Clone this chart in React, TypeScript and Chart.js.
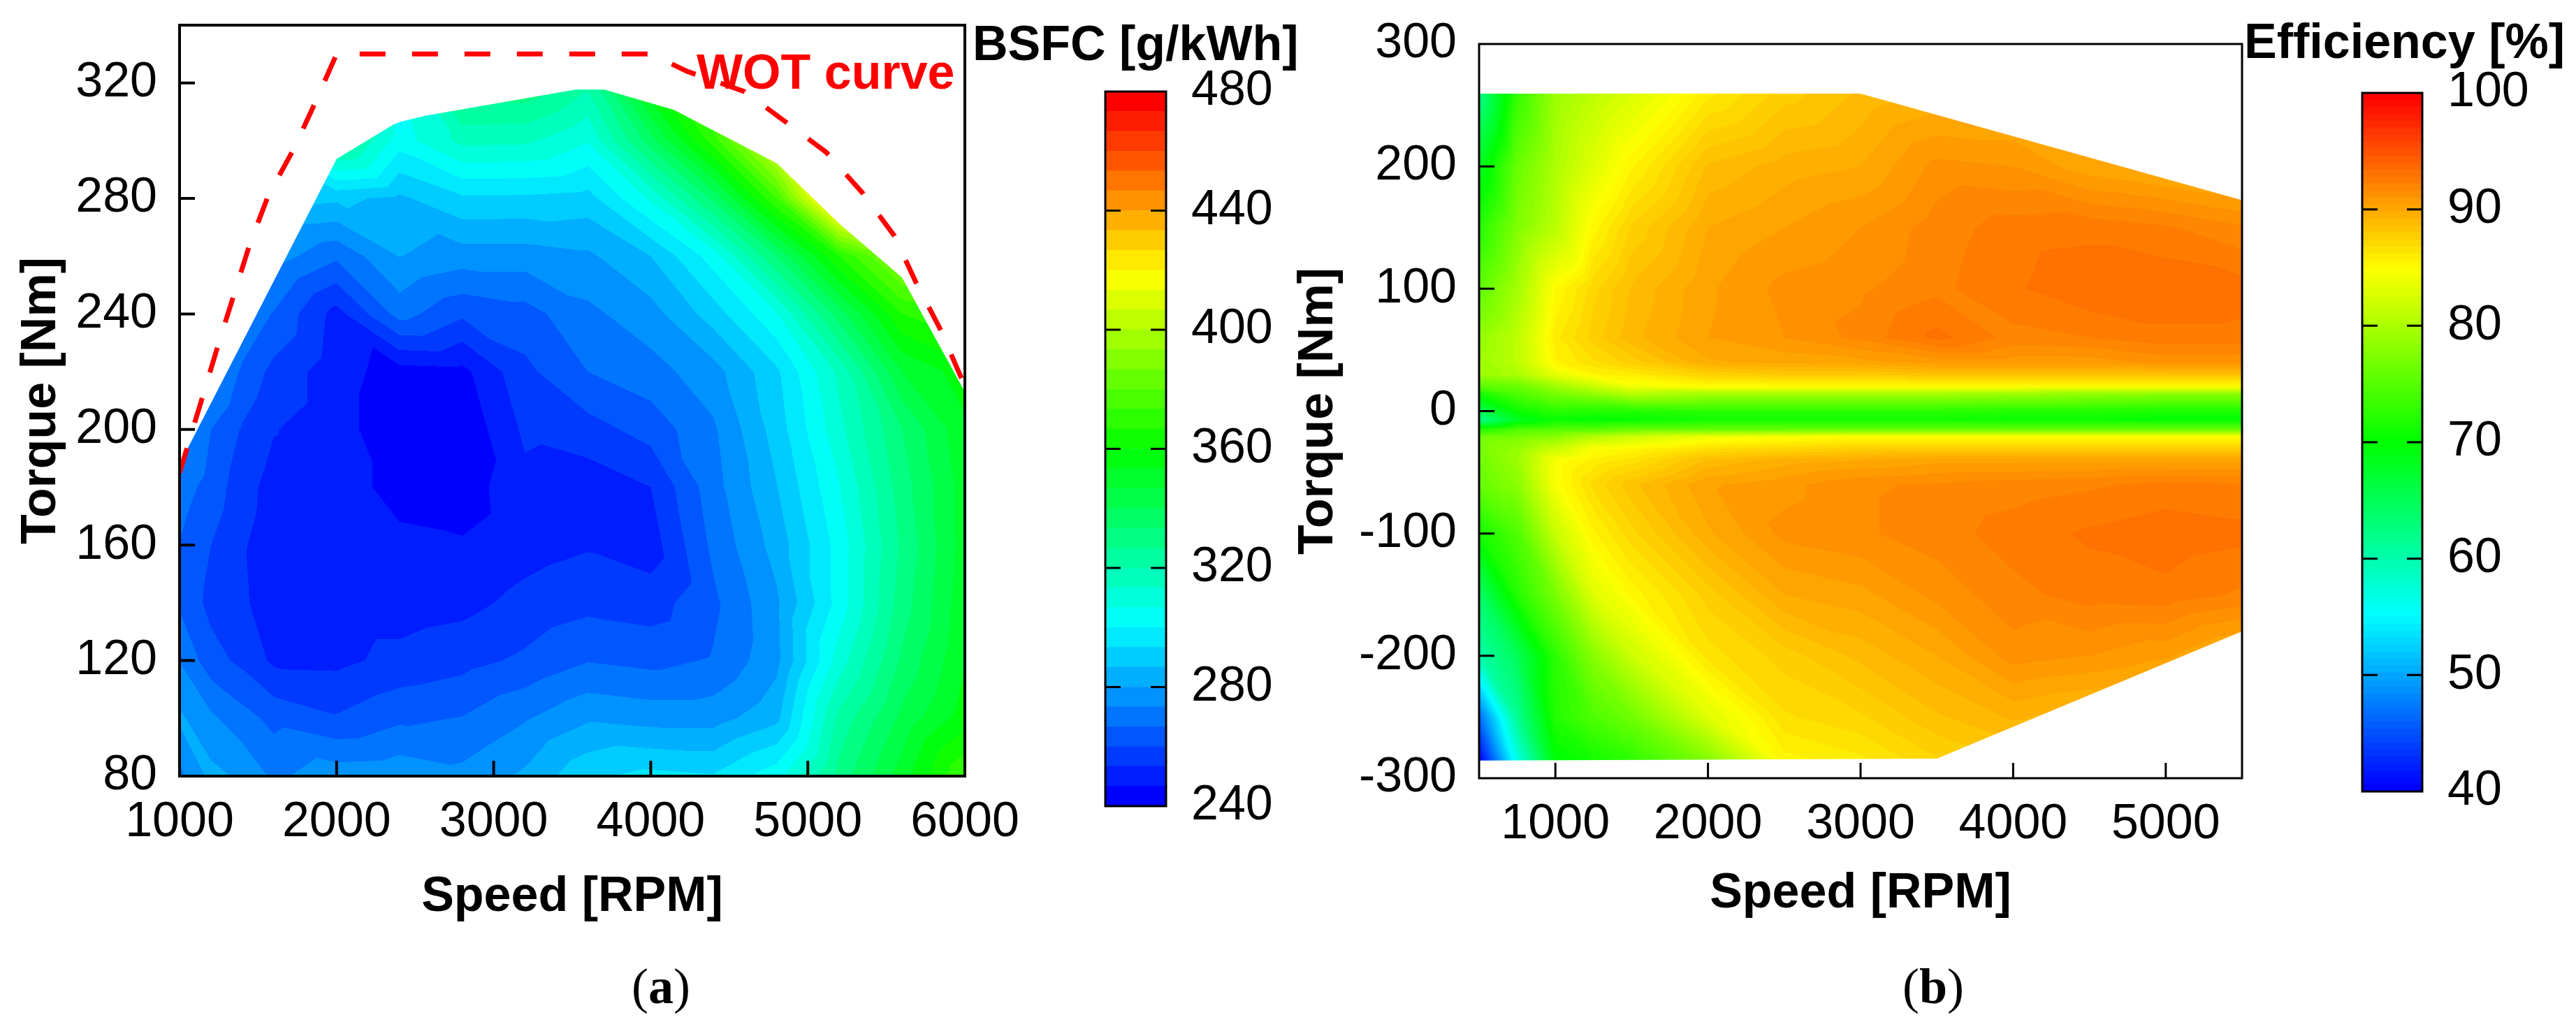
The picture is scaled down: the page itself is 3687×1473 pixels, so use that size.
import { Chart, registerables } from 'chart.js'
import { useEffect, useRef } from 'react'

Chart.register(...registerables)

// (a) BSFC map
const bsfcTorques = [80, 100, 120, 140, 160, 180, 200, 220, 240, 260, 280, 300, 320]
const bsfcSpeeds = [1000, 1200, 1400, 1600, 2000, 2400, 2800, 3200, 3600, 4000, 4400, 4800, 5200, 5600, 6000]
const bsfcAt1000 = [271.3, 281.3, 273, 265.7, 266.3, 270, 276.7, 290, 303.3, 313.3, 326.7, 340, 346.7]
const bsfcAt1200 = [282, 274.7, 262.7, 258, 260, 264, 266.7, 276.7, 286.7, 300, 313.3, 326.7, 340]
const bsfcAt1400 = [278.7, 269.3, 258.3, 254.7, 254, 256, 259.3, 265.3, 273.3, 286.7, 300, 313.3, 326.7]
const bsfcAt1600 = [272, 264.7, 252, 248.7, 250, 250.7, 253.7, 258, 266, 276.7, 290, 303.3, 313.3]
const bsfcAt2000 = [277.3, 260.7, 251.7, 250, 249.3, 249.3, 249.3, 249.3, 250.7, 268, 288, 326.7, 340]
const bsfcAt2400 = [278, 265.3, 255.3, 250, 248, 244.7, 242, 243.7, 269.3, 280.2, 285.3, 303.3, 306.7]
const bsfcAt2800 = [275.3, 267, 257.7, 251.3, 247.3, 243.3, 241.3, 244.7, 261.3, 276.7, 292.3, 315.3, 333]
const bsfcAt3200 = [281.3, 272.7, 261.3, 255.3, 250.7, 251.3, 254.7, 258.3, 264, 276.7, 292, 314.7, 333]
const bsfcAt3600 = [292, 279, 266.3, 258, 252.7, 249.3, 257.3, 266.7, 271.7, 278.7, 290.7, 307.3, 322]
const bsfcAt4000 = [295.3, 277.3, 264.7, 256.7, 250, 253.3, 262.7, 270.7, 277.3, 286.7, 308, 337.3, 360]
const bsfcAt4400 = [294, 277.3, 267.3, 265.3, 268.3, 270.7, 272.3, 277.3, 290, 303.3, 335.3, 370, 386.7]
const bsfcAt4800 = [304, 284.7, 278, 278.7, 282.7, 286.3, 289.7, 292, 306, 333.3, 373.3, 413.3, 440]
const bsfcAt5200 = [329.3, 322, 310, 302.7, 302.7, 306.3, 311.3, 315.3, 336.7, 366.7, 440, 460, 473.3]
const bsfcAt5600 = [350, 342, 334.7, 330, 328, 330, 333.3, 346.7, 366.7, 393.3, 440, 460, 473.3]
const bsfcAt6000 = [373.3, 356.7, 352.7, 351.3, 350, 350, 352, 356.7, 373.3, 406.7, 440, 460, 473.3]
const bsfcColumns = [
  bsfcAt1000, bsfcAt1200, bsfcAt1400, bsfcAt1600, bsfcAt2000, bsfcAt2400, bsfcAt2800, bsfcAt3200,
  bsfcAt3600, bsfcAt4000, bsfcAt4400, bsfcAt4800, bsfcAt5200, bsfcAt5600, bsfcAt6000,
]
// upper edge of the measured region
const bsfcOutlineSpeed = [1000, 2000, 2365, 2416, 2569, 3522, 3705, 4147, 4803, 5203, 5600, 6000, 6000, 1000]
const bsfcOutlineTorque = [188, 293.7, 305.7, 306.7, 308.7, 317.7, 317.7, 310.7, 292.2, 271.2, 252.6, 213, 80, 80]
const wotSpeed = [1000, 1250, 1446, 1565, 1726, 1862, 2000, 4000, 4232, 4598, 4871, 5117, 5347, 5552, 5688, 5841, 6000]
const wotTorque = [185, 230, 264, 281, 297, 313, 330, 330, 324, 317, 306, 296, 282, 267, 251, 235, 215]

// (b) motor efficiency map
const effTorques = [-286, -250, -200, -150, -100, -60, -40, -30, -21, -15, -7, 0, 14, 20, 30, 40, 60, 100, 150, 200, 260]
const effSpeeds = [500, 750, 1000, 1250, 1500, 2000, 2500, 3000, 3500, 4000, 4500, 5000, 5500]
const effAt500 = [40, 46.5, 60, 64, 71, 76, 76.5, 77, 76.5, 72, 62, 65, 71, 75, 79, 79, 78.5, 75.5, 72, 68, 62]
const effAt750 = [56.5, 61.5, 65, 72, 74.5, 78, 79, 78.5, 77, 74.5, 68, 70.6, 74.5, 76, 80, 81, 81, 79.5, 77.5, 76, 73]
const effAt1000 = [69.5, 72, 72.5, 77, 81.5, 84.5, 84.5, 81.5, 78, 75, 70.5, 72.5, 77, 79, 83.5, 85.5, 86, 85, 80.8, 80, 79]
const effAt1250 = [71, 74.5, 78, 83, 85.5, 87, 85.8, 84.5, 80.5, 75, 70, 72, 78.5, 81.5, 85.5, 86.7, 87.7, 87.2, 85.3, 83, 81]
const effAt1500 = [72.5, 76.5, 81.8, 85.2, 87.2, 88.4, 86.5, 85, 82, 76, 70.3, 72, 80.5, 84, 86, 87.7, 89, 88.7, 87.5, 85.5, 82.6]
const effAt2000 = [77.5, 83, 86.5, 87.7, 89.7, 90.3, 88.7, 86.5, 84, 76, 71, 72.5, 79.5, 85, 87.5, 89.7, 90.4, 90.3, 89.8, 88.7, 86]
const effAt2500 = [85.3, 86.7, 87.7, 89.8, 91.2, 90.8, 89.5, 87, 84.5, 76, 71, 72.5, 79.5, 85, 88, 90, 91, 91.2, 90.4, 89.5, 87.7]
const effAt3000 = [86, 87.3, 88.8, 90.2, 91.5, 91.5, 89.8, 87.5, 85, 76, 71, 72.5, 79.5, 85, 88, 90.2, 91.8, 91.5, 91, 89.8, 88.7]
const effAt3500 = [87.3, 88.5, 89.8, 91.2, 91.9, 91.7, 90.2, 87.5, 85, 76, 71, 72.5, 79.5, 85, 88.5, 90.7, 93, 92.05, 91.9, 91.2, 89.3]
const effAt4000 = [88, 89.3, 91.3, 92, 92.5, 91.9, 90.2, 87.5, 85, 76, 70.5, 72, 79, 85, 88.5, 90.7, 92, 92.7, 92.5, 91, 89.3]
const effAt4500 = [88, 88.8, 91, 92.5, 92.9, 92.1, 90.2, 87.5, 85, 76, 70.5, 72, 78.5, 85, 88.5, 90.7, 92.2, 93.3, 92.6, 90, 89.3]
const effAt5000 = [88, 88.5, 90.5, 92.6, 93.2, 92.4, 90.2, 87.5, 85, 76, 70, 71.5, 78, 85, 88.5, 91.2, 92.6, 93.3, 92.3, 89.5, 89]
const effAt5500 = [88, 88.5, 89.4, 92.1, 93, 92.3, 90.2, 87.5, 85, 76, 70, 71.5, 78, 85, 88.5, 91.2, 92.6, 93.1, 91.7, 89.1, 88.5]
const effColumns = [
  effAt500, effAt750, effAt1000, effAt1250, effAt1500, effAt2000, effAt2500, effAt3000, effAt3500, effAt4000, effAt4500, effAt5000, effAt5500,
]
const effOutlineSpeed = [500, 3000, 5500, 5500, 3500, 500]
const effOutlineTorque = [259.5, 259.5, 172.4, -180, -284, -285.6]

// axis ticks
const bsfcSpeedTicks = [1000, 2000, 3000, 4000, 5000, 6000]
const bsfcTorqueTicks = [80, 120, 160, 200, 240, 280, 320]
const bsfcBarTicks = [240, 280, 320, 360, 400, 440, 480]
const effSpeedTicks = [1000, 2000, 3000, 4000, 5000]
const effTorqueTicks = [-300, -200, -100, 0, 100, 200, 300]
const effBarTicks = [40, 50, 60, 70, 80, 90, 100]

const SANS = 'Liberation Sans'

// rainbow map: blue, cyan, green, yellow, red
function rainbow(t: number): [number, number, number] {
  if (t < 0.25) return [0, 4 * t * 255, 255]
  if (t < 0.5) return [0, 255, (1 - 4 * (t - 0.25)) * 255]
  if (t < 0.75) return [4 * (t - 0.5) * 255, 255, 0]
  return [255, (1 - 4 * (t - 0.75)) * 255, 0]
}

function bandColors(bands: number) {
  const out: [number, number, number][] = []
  for (let i = 0; i < bands; i++) out.push(rainbow(i / (bands - 1)))
  return out
}

function findCell(list: number[], v: number) {
  let i = 0
  while (i < list.length - 2 && v > list[i + 1]) i++
  return i
}

// fills the contour bands, reading every pixel back through the chart's scales
function contourPlugin(p: any) {
  return {
    id: 'contourFill',
    beforeDatasetsDraw(chart: any) {
      const { left, top, right, bottom } = chart.chartArea
      const sx = chart.scales.x
      const sy = chart.scales.y
      const w = Math.round(right - left)
      const h = Math.round(bottom - top)
      const off = document.createElement('canvas')
      off.width = w
      off.height = h
      const octx = off.getContext('2d')!
      const img = octx.createImageData(w, h)
      const colors = bandColors(p.bands)
      const step = (p.max - p.min) / p.bands
      const colIdx: number[] = []
      const colFrac: number[] = []
      for (let px = 0; px < w; px++) {
        const s = sx.getValueForPixel(left + px + 0.5)
        const c = findCell(p.speeds, s)
        colIdx.push(c)
        colFrac.push((s - p.speeds[c]) / (p.speeds[c + 1] - p.speeds[c]))
      }
      for (let py = 0; py < h; py++) {
        const t = sy.getValueForPixel(top + py + 0.5)
        const r = findCell(p.torques, t)
        const fv = (t - p.torques[r]) / (p.torques[r + 1] - p.torques[r])
        for (let px = 0; px < w; px++) {
          const c = colIdx[px]
          const fu = colFrac[px]
          const a = p.columns[c][r]
          const b = p.columns[c + 1][r]
          const d = p.columns[c][r + 1]
          const e = p.columns[c + 1][r + 1]
          const v = fu + fv <= 1
            ? a + fu * (b - a) + fv * (d - a)
            : e + (1 - fu) * (d - e) + (1 - fv) * (b - e)
          const band = Math.max(0, Math.min(p.bands - 1, Math.floor((v - p.min) / step)))
          const col = colors[band]
          const o = (py * w + px) * 4
          img.data[o] = col[0]
          img.data[o + 1] = col[1]
          img.data[o + 2] = col[2]
          img.data[o + 3] = 255
        }
      }
      octx.putImageData(img, 0, 0)
      const ctx = chart.ctx
      ctx.save()
      ctx.beginPath()
      p.outlineSpeed.forEach((s: number, i: number) => {
        const x = sx.getPixelForValue(s)
        const y = sy.getPixelForValue(p.outlineTorque[i])
        if (i === 0) ctx.moveTo(x, y)
        else ctx.lineTo(x, y)
      })
      ctx.closePath()
      ctx.clip()
      ctx.drawImage(off, left, top)
      ctx.restore()
    },
  }
}

// box round the plot and the short inward ticks
function framePlugin(lineWidth: number, tickLen: number, bothSides = false) {
  return {
    id: 'frame',
    afterDraw(chart: any) {
      const { left, top, right, bottom } = chart.chartArea
      const ctx = chart.ctx
      ctx.save()
      ctx.strokeStyle = '#000'
      ctx.lineWidth = lineWidth
      ctx.strokeRect(left, top, right - left, bottom - top)
      const sy = chart.scales.y
      const sx = chart.scales.x
      ctx.beginPath()
      sy.ticks.forEach((t: any) => {
        if (t.value === sy.min || t.value === sy.max) return
        const y = sy.getPixelForValue(t.value)
        ctx.moveTo(left, y)
        ctx.lineTo(left + tickLen, y)
        if (bothSides) {
          ctx.moveTo(right, y)
          ctx.lineTo(right - tickLen, y)
        }
      })
      if (!bothSides) {
        sx.ticks.forEach((t: any) => {
          if (t.value === sx.min || t.value === sx.max) return
          const x = sx.getPixelForValue(t.value)
          ctx.moveTo(x, bottom)
          ctx.lineTo(x, bottom - tickLen)
        })
      }
      ctx.stroke()
      ctx.restore()
    },
  }
}

function textPlugin(text: string, x: number, y: number, color = '#000') {
  return {
    id: 'freeText',
    afterDraw(chart: any) {
      const ctx = chart.ctx
      ctx.save()
      ctx.font = `bold 70px "${SANS}"`
      ctx.fillStyle = color
      ctx.textBaseline = 'alphabetic'
      ctx.textAlign = 'left'
      ctx.fillText(text, x, y)
      ctx.restore()
    },
  }
}

// the tick labels would otherwise push the chart area in
function clearScalePadding(s: any) {
  s.paddingTop = 0
  s.paddingBottom = 0
  s.paddingLeft = 0
  s.paddingRight = 0
}

function ContourPanel({ box, area, xRange, yRange, xTicks, yTicks, grid, wot, note, frameWidth, titleOffset }: any) {
  const ref = useRef<HTMLCanvasElement>(null)

  useEffect(() => {
    if (!ref.current) return
    const datasets: any[] = wot
      ? [{
          data: wot.speed.map((s: number, i: number) => ({ x: s, y: wot.torque[i] })),
          showLine: true,
          borderColor: '#ff0000',
          borderWidth: 7,
          borderDash: [37, 38],
          pointRadius: 0,
          tension: 0,
        }]
      : []
    const plugins: any[] = [contourPlugin(grid), framePlugin(frameWidth, 22)]
    if (note) plugins.push(textPlugin(note.text, note.x, note.y, '#ff0000'))
    const chart = new Chart(ref.current, {
      type: 'scatter',
      data: { datasets },
      plugins,
      options: {
        responsive: false,
        devicePixelRatio: 1,
        animation: false,
        layout: { padding: { left: 0, top: area.top, right: box.width - area.right, bottom: 0 } },
        plugins: { legend: { display: false }, tooltip: { enabled: false } },
        scales: {
          x: {
            type: 'linear',
            min: xRange[0],
            max: xRange[1],
            afterBuildTicks: (s: any) => { s.ticks = xTicks.map((value: number) => ({ value })) },
            afterFit: (s: any) => {
              s.height = box.height - area.bottom
              clearScalePadding(s)
            },
            grid: { display: false },
            border: { display: false },
            ticks: {
              color: '#000',
              padding: 17,
              autoSkip: false,
              maxRotation: 0,
              font: { family: SANS, size: 70 },
              callback: (v: any) => String(v),
            },
            title: {
              display: true,
              text: 'Speed [RPM]',
              color: '#000',
              font: { family: SANS, size: 70, weight: 'bold' },
              padding: { top: 0, bottom: titleOffset.x },
            },
          },
          y: {
            type: 'linear',
            min: yRange[0],
            max: yRange[1],
            afterBuildTicks: (s: any) => { s.ticks = yTicks.map((value: number) => ({ value })) },
            afterFit: (s: any) => {
              s.width = area.left
              clearScalePadding(s)
            },
            grid: { display: false },
            border: { display: false },
            ticks: {
              color: '#000',
              padding: 24,
              autoSkip: false,
              font: { family: SANS, size: 70 },
              callback: (v: any) => String(v),
            },
            title: {
              display: true,
              text: 'Torque [Nm]',
              color: '#000',
              font: { family: SANS, size: 70, weight: 'bold' },
              padding: { top: titleOffset.y, bottom: 0 },
            },
          },
        },
      },
    })
    return () => chart.destroy()
  }, [])

  return (
    <canvas
      ref={ref}
      width={box.width}
      height={box.height}
      style={{ position: 'absolute', left: box.left, top: 0, width: box.width, height: box.height }}
    />
  )
}

function ColorBar({ box, area, range, bands, ticks, title, titlePos }: any) {
  const ref = useRef<HTMLCanvasElement>(null)

  useEffect(() => {
    if (!ref.current) return
    const colors = bandColors(bands)
    const step = (range[1] - range[0]) / bands
    const chart = new Chart(ref.current, {
      type: 'bar',
      data: {
        labels: [''],
        datasets: colors.map((c, i) => ({
          data: [[range[0] + i * step, range[0] + (i + 1) * step]],
          backgroundColor: `rgb(${c[0]},${c[1]},${c[2]})`,
          borderWidth: 0,
          barPercentage: 1,
          categoryPercentage: 1,
          grouped: false,
        })) as any,
      },
      plugins: [framePlugin(3, 22, true), textPlugin(title, titlePos.x, titlePos.y)],
      options: {
        responsive: false,
        devicePixelRatio: 1,
        animation: false,
        layout: { padding: { left: area.left, top: area.top, right: 0, bottom: box.height - area.bottom } },
        plugins: { legend: { display: false }, tooltip: { enabled: false } },
        scales: {
          x: { display: false },
          y: {
            position: 'right',
            min: range[0],
            max: range[1],
            afterBuildTicks: (s: any) => { s.ticks = ticks.map((value: number) => ({ value })) },
            afterFit: (s: any) => {
              s.width = box.width - area.right
              clearScalePadding(s)
            },
            grid: { display: false },
            border: { display: false },
            ticks: {
              color: '#000',
              padding: 28,
              autoSkip: false,
              font: { family: SANS, size: 70 },
              callback: (v: any) => String(v),
            },
          },
        },
      },
    })
    return () => chart.destroy()
  }, [])

  return (
    <canvas
      ref={ref}
      width={box.width}
      height={box.height}
      style={{ position: 'absolute', left: box.left, top: 0, width: box.width, height: box.height }}
    />
  )
}

function Caption({ letter, center }: { letter: string; center: number }) {
  return (
    <div
      style={{
        position: 'absolute',
        left: center - 100,
        width: 200,
        top: 1372,
        textAlign: 'center',
        fontFamily: 'Liberation Serif',
        fontSize: 72,
        lineHeight: '80px',
        color: '#000',
      }}
    >
      (<b>{letter}</b>)
    </div>
  )
}

export default function App() {
  return (
    <div style={{ position: 'absolute', left: 0, top: 0, width: 3687, height: 1473, background: '#fff', overflow: 'hidden' }}>
      <ContourPanel
        box={{ left: 0, width: 1560, height: 1473 }}
        area={{ left: 257, top: 36, right: 1381, bottom: 1111 }}
        xRange={[1000, 6000]}
        yRange={[80, 340]}
        xTicks={bsfcSpeedTicks}
        yTicks={bsfcTorqueTicks}
        grid={{
          speeds: bsfcSpeeds,
          torques: bsfcTorques,
          columns: bsfcColumns,
          outlineSpeed: bsfcOutlineSpeed,
          outlineTorque: bsfcOutlineTorque,
          min: 240,
          max: 480,
          bands: 36,
        }}
        wot={{ speed: wotSpeed, torque: wotTorque }}
        note={{ text: 'WOT curve', x: 997, y: 127 }}
        frameWidth={4}
        titleOffset={{ x: 146, y: 18 }}
      />
      <ColorBar
        box={{ left: 1390, width: 480, height: 1473 }}
        area={{ left: 192, top: 131, right: 279, bottom: 1154 }}
        range={[240, 480]}
        bands={36}
        ticks={bsfcBarTicks}
        title="BSFC [g/kWh]"
        titlePos={{ x: 2, y: 86 }}
      />
      <ContourPanel
        box={{ left: 1840, width: 1440, height: 1473 }}
        area={{ left: 277, top: 63, right: 1369, bottom: 1114 }}
        xRange={[500, 5500]}
        yRange={[-300, 300]}
        xTicks={effSpeedTicks}
        yTicks={effTorqueTicks}
        grid={{
          speeds: effSpeeds,
          torques: effTorques,
          columns: effColumns,
          outlineSpeed: effOutlineSpeed,
          outlineTorque: effOutlineTorque,
          min: 40,
          max: 100,
          bands: 100,
        }}
        frameWidth={3}
        titleOffset={{ x: 151, y: 6 }}
      />
      <ColorBar
        box={{ left: 3200, width: 487, height: 1473 }}
        area={{ left: 181, top: 133, right: 267, bottom: 1133 }}
        range={[40, 100]}
        bands={100}
        ticks={effBarTicks}
        title="Efficiency [%]"
        titlePos={{ x: 12, y: 83 }}
      />
      <Caption letter="a" center={946} />
      <Caption letter="b" center={2767} />
    </div>
  )
}
